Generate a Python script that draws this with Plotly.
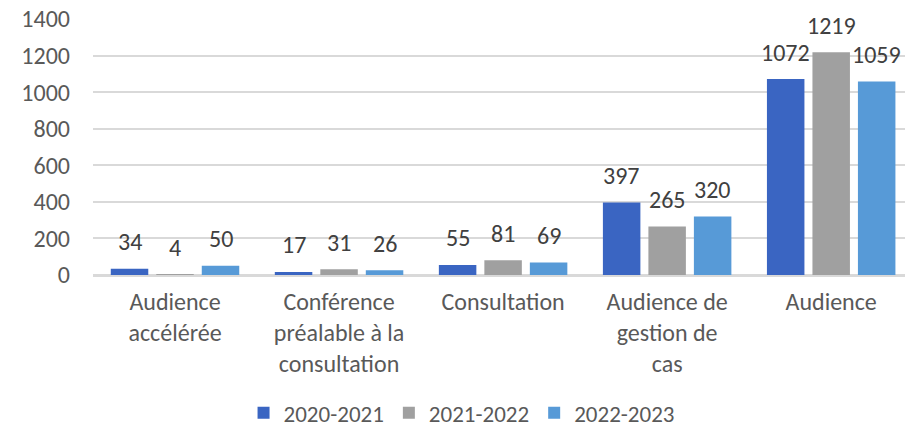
import plotly.graph_objects as go

categories = ["Audience<br>accélérée", "Conférence<br>préalable à la<br>consultation", "Consultation",
              "Audience de<br>gestion de<br>cas", "Audience"]
series_names = ["2020-2021", "2021-2022", "2022-2023"]
values_2020_2021 = [34, 17, 55, 397, 1072]
values_2021_2022 = [4, 31, 81, 265, 1219]
values_2022_2023 = [50, 26, 69, 320, 1059]
y_ticks = [0, 200, 400, 600, 800, 1000, 1200, 1400]

colors = ["#3a65c2", "#a0a0a0", "#579ad7"]
series = [values_2020_2021, values_2021_2022, values_2022_2023]

FONT = "Calibri, Carlito, Lato, sans-serif"

fig = go.Figure()
for name, vals, col in zip(series_names, series, colors):
    fig.add_trace(go.Bar(x=categories, y=vals, name=name, marker=dict(color=col, line=dict(width=0))))

# data labels above each bar
slot_px = 45.5
for i, vals in enumerate(series):
    for c, v in zip(categories, vals):
        fig.add_annotation(x=c, y=v, text=str(v), showarrow=False,
                           xshift=(i - 1) * slot_px, yshift=27,
                           font=dict(family=FONT, size=24, color="#404040"))

fig.update_layout(
    width=905, height=427,
    margin=dict(l=93, r=0, t=19, b=152, autoexpand=False),
    plot_bgcolor="white", paper_bgcolor="white",
    barmode="group", bargap=0.168, bargroupgap=0.176,
    font=dict(family=FONT, size=24, color="#595959"),
    showlegend=True,
    legend=dict(orientation="h", xref="container", yref="container", x=0.51, y=0.033,
                xanchor="center", yanchor="middle", font=dict(size=23, color="#595959"),
                bgcolor="rgba(0,0,0,0)"),
    xaxis=dict(range=[-0.5, 4.45], showgrid=False, showline=True, linecolor="#d9d9d9", linewidth=1.5,
               ticks="", tickfont=dict(size=24, color="#595959"), ticklabelstandoff=4, automargin=False),
    yaxis=dict(range=[0, 1400.5], tickvals=y_ticks, showgrid=True, gridcolor="#d9d9d9", gridwidth=1.5,
               zeroline=True, zerolinecolor="#d9d9d9", zerolinewidth=1.5, showline=False,
               ticks="", tickfont=dict(size=24, color="#595959"), ticklabelstandoff=22,
               ticklabeloverflow="allow", automargin=False),
)

fig.write_html("out.html", config={"displayModeBar": False},
               post_script="document.body.style.margin='0px';")
